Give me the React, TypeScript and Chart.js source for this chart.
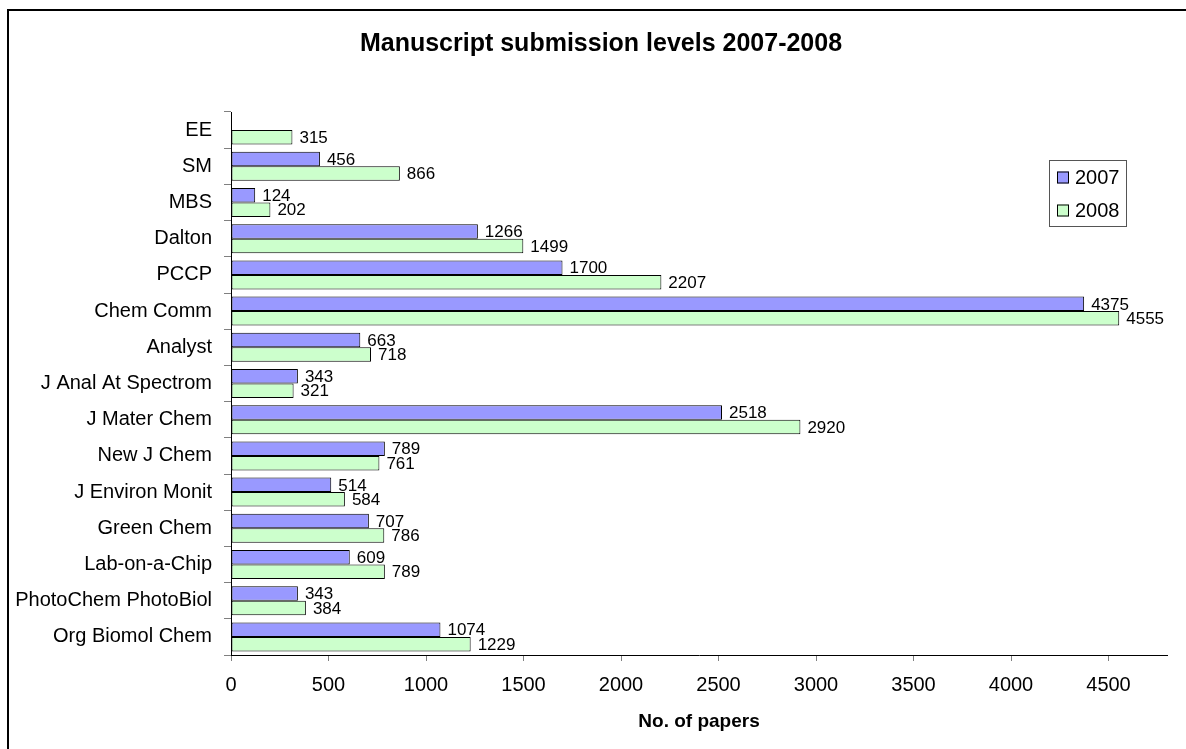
import React, { useEffect, useRef } from "react";
import { Chart, registerables } from "chart.js";

Chart.register(...registerables);

const chartTitle = "Manuscript submission levels 2007-2008";
const xAxisTitle = "No. of papers";
const categories = [
  "EE",
  "SM",
  "MBS",
  "Dalton",
  "PCCP",
  "Chem Comm",
  "Analyst",
  "J Anal At Spectrom",
  "J Mater Chem",
  "New J Chem",
  "J Environ Monit",
  "Green Chem",
  "Lab-on-a-Chip",
  "PhotoChem PhotoBiol",
  "Org Biomol Chem",
];
const seriesNames = ["2007", "2008"];
const values2007 = [null, 456, 124, 1266, 1700, 4375, 663, 343, 2518, 789, 514, 707, 609, 343, 1074];
const values2008 = [315, 866, 202, 1499, 2207, 4555, 718, 321, 2920, 761, 584, 786, 789, 384, 1229];
const xMin = 0;
const xMax = 4800;
const xTickValues = [0, 500, 1000, 1500, 2000, 2500, 3000, 3500, 4000, 4500];

const FONT = "'Liberation Sans', Arial, Helvetica, sans-serif";

const titlePlugin = {
  id: "excelTitle",
  afterDraw(chart: any) {
    const ctx = chart.ctx;
    ctx.save();
    ctx.font = `bold 25px ${FONT}`;
    ctx.fillStyle = "#000";
    ctx.textAlign = "center";
    ctx.textBaseline = "middle";
    ctx.fillText(chartTitle, chart.width / 2, 33);
    ctx.restore();
  },
};

const dataLabelPlugin = {
  id: "barValueLabels",
  afterDatasetsDraw(chart: any) {
    const ctx = chart.ctx;
    ctx.save();
    ctx.font = `17px ${FONT}`;
    ctx.fillStyle = "#000";
    ctx.textAlign = "left";
    ctx.textBaseline = "middle";
    chart.data.datasets.forEach((ds: any, i: number) => {
      const meta = chart.getDatasetMeta(i);
      meta.data.forEach((el: any, j: number) => {
        const v = ds.data[j];
        if (v === null || v === undefined) return;
        ctx.fillText(String(v), el.x + 7, el.y + 1);
      });
    });
    ctx.restore();
  },
};

const legendPlugin = {
  id: "floatingLegend",
  afterDraw(chart: any) {
    const ctx = chart.ctx;
    const area = chart.chartArea;
    const boxW = 77;
    const boxH = 66;
    const left = area.right - 118;
    const top = area.top + 48;
    ctx.save();
    ctx.fillStyle = "#fff";
    ctx.fillRect(left, top, boxW, boxH);
    ctx.strokeStyle = "#555";
    ctx.lineWidth = 1;
    ctx.strokeRect(left + 0.5, top + 0.5, boxW, boxH);
    ctx.font = `20px ${FONT}`;
    ctx.textAlign = "left";
    ctx.textBaseline = "middle";
    chart.data.datasets.forEach((ds: any, i: number) => {
      const cy = top + 17.5 + i * 33;
      ctx.fillStyle = ds.backgroundColor;
      ctx.fillRect(left + 8, cy - 6, 12, 12);
      ctx.strokeStyle = "#000";
      ctx.lineWidth = 1;
      ctx.strokeRect(left + 8.5, cy - 5.5, 11, 11);
      ctx.fillStyle = "#000";
      ctx.fillText(ds.label, left + 26, cy + 1);
    });
    ctx.restore();
  },
};

export default function App() {
  const ref = useRef<HTMLCanvasElement | null>(null);

  useEffect(() => {
    if (!ref.current) return;
    const chart = new Chart(ref.current, {
      type: "bar",
      data: {
        labels: categories,
        datasets: [
          {
            label: seriesNames[0],
            data: values2007 as any,
            backgroundColor: "#9999FF",
            borderColor: "#000",
            borderWidth: 1,
            borderSkipped: false,
            categoryPercentage: 0.8,
            barPercentage: 1.0,
          },
          {
            label: seriesNames[1],
            data: values2008,
            backgroundColor: "#CCFFCC",
            borderColor: "#000",
            borderWidth: 1,
            borderSkipped: false,
            categoryPercentage: 0.8,
            barPercentage: 1.0,
          },
        ],
      },
      options: {
        indexAxis: "y",
        responsive: false,
        animation: false,
        layout: { padding: { top: 101, right: 26, left: 0, bottom: 0 } },
        plugins: {
          legend: { display: false },
          title: { display: false },
          tooltip: { enabled: false },
        },
        scales: {
          x: {
            type: "linear",
            min: xMin,
            max: xMax,
            afterBuildTicks: (s: any) => {
              s.ticks = xTickValues.map((v) => ({ value: v }));
            },
            ticks: {
              autoSkip: false,
              color: "#000",
              font: { family: FONT, size: 20 },
              padding: 12,
              maxRotation: 0,
              callback: (v: any) => String(v),
            },
            grid: {
              display: true,
              drawOnChartArea: false,
              drawTicks: true,
              tickLength: 6,
              color: "#808080",
            },
            border: { display: true, color: "#000", width: 1 },
            title: {
              display: true,
              text: xAxisTitle,
              color: "#000",
              font: { family: FONT, size: 19, weight: "bold" },
              padding: { top: 0, bottom: 15.6 },
            },
            afterFit: (s: any) => {
              s.height = 94;
            },
          },
          y: {
            ticks: {
              color: "#000",
              font: { family: FONT, size: 20 },
              padding: 12,
              autoSkip: false,
            },
            grid: {
              display: true,
              drawOnChartArea: false,
              drawTicks: true,
              tickLength: 7,
              color: "#808080",
              offset: true,
            },
            border: { display: true, color: "#000", width: 1 },
            afterFit: (s: any) => {
              s.width = 222;
            },
          },
        },
      } as any,
      plugins: [titlePlugin, dataLabelPlugin, legendPlugin],
    });
    return () => chart.destroy();
  }, []);

  return (
    <div
      style={{
        position: "absolute",
        left: 7,
        top: 9,
        width: 1179,
        height: 740,
        overflow: "hidden",
        borderLeft: "2px solid #000",
        borderTop: "2px solid #000",
        boxSizing: "border-box",
        background: "#fff",
      }}
    >
      <canvas ref={ref} width={1184} height={738} style={{ display: "block", width: 1184, height: 738 }} />
    </div>
  );
}
